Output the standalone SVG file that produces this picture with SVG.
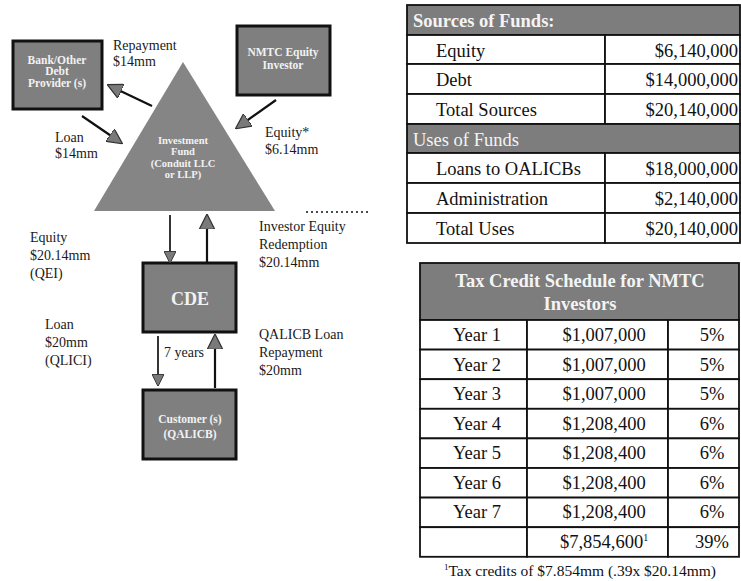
<svg xmlns="http://www.w3.org/2000/svg" width="741" height="581" viewBox="0 0 741 581">
<style>
  .box { fill: #7f7f7f; stroke: #111; stroke-width: 3; }
  .tri { fill: #858585; }
  .bt { font-family: "Liberation Serif", serif; font-size: 11.5px; font-weight: bold; fill: #f2f2f2; text-anchor: middle; }
  .ft { font-family: "Liberation Serif", serif; font-size: 10.5px; font-weight: bold; fill: #f2f2f2; text-anchor: middle; }
  .lbl { font-family: "Liberation Serif", serif; font-size: 14px; fill: #1a1a1a; }
  .conn line { stroke: #111; stroke-width: 2.2; }
  .cell { fill: #fff; stroke: #111; stroke-width: 1.8; }
  .hdr { fill: #7d7d7d; stroke: #111; stroke-width: 1.8; }
  .tt { font-family: "Liberation Serif", serif; font-size: 18.5px; fill: #111; }
  .th { font-family: "Liberation Serif", serif; font-size: 18.5px; fill: #f4f4f4; }
</style>
<defs>
  <marker id="ah" viewBox="0 0 10 10" refX="8" refY="5" markerWidth="7" markerHeight="7" orient="auto" markerUnits="strokeWidth">
    <path d="M0,0 L10,5 L0,10 Z" fill="#7a7a7a" stroke="#333" stroke-width="0.8"/>
  </marker>
</defs>
<rect width="741" height="581" fill="#fff"/>

<g id="bank">
  <rect class="box" x="13" y="41" width="89" height="68"/>
  <text class="bt" x="57" y="64">Bank/Other</text>
  <text class="bt" x="57" y="75">Debt</text>
  <text class="bt" x="57" y="87">Provider (s)</text>
</g>
<g id="nmtc">
  <rect class="box" x="237" y="26" width="93" height="69"/>
  <text class="bt" x="283" y="56">NMTC Equity</text>
  <text class="bt" x="283" y="69">Investor</text>
</g>
<g id="fund">
  <polygon class="tri" points="183,62 275,211 94,211"/>
  <text class="ft" x="183" y="144">Investment</text>
  <text class="ft" x="183" y="155">Fund</text>
  <text class="ft" x="183" y="167">(Conduit LLC</text>
  <text class="ft" x="183" y="178">or LLP)</text>
</g>
<g id="cde">
  <rect class="box" x="143" y="263" width="93" height="69"/>
  <text x="190" y="305" text-anchor="middle" font-family="Liberation Serif, serif" font-size="18" font-weight="bold" fill="#f2f2f2">CDE</text>
</g>
<g id="customer">
  <rect class="box" x="143" y="390" width="93" height="69"/>
  <text class="bt" x="190" y="423">Customer (s)</text>
  <text class="bt" x="190" y="438">(QALICB)</text>
</g>

<g class="conn">
  <line x1="152" y1="106" x2="110" y2="86" marker-end="url(#ah)"/>
  <line x1="82" y1="116" x2="120" y2="142" marker-end="url(#ah)"/>
  <line x1="276" y1="100" x2="238" y2="127" marker-end="url(#ah)"/>
  <line x1="170" y1="215" x2="170" y2="261" marker-end="url(#ah)" style="stroke-width:1.7"/>
  <line x1="207" y1="263" x2="207" y2="217" marker-end="url(#ah)"/>
  <line x1="158" y1="336" x2="158" y2="384" marker-end="url(#ah)" style="stroke-width:1.7"/>
  <line x1="215" y1="388" x2="215" y2="337" marker-end="url(#ah)"/>
  <line x1="306" y1="212" x2="370" y2="212" style="stroke-width:1.5;stroke-dasharray:2 3"/>
</g>

<g id="labels">
  <text class="lbl" x="113" y="50">Repayment</text>
  <text class="lbl" x="113" y="66">$14mm</text>
  <text class="lbl" x="55" y="142">Loan</text>
  <text class="lbl" x="55" y="158">$14mm</text>
  <text class="lbl" x="265" y="137">Equity*</text>
  <text class="lbl" x="265" y="154">$6.14mm</text>
  <text class="lbl" x="30" y="242">Equity</text>
  <text class="lbl" x="30" y="260">$20.14mm</text>
  <text class="lbl" x="30" y="278">(QEI)</text>
  <text class="lbl" x="259" y="231">Investor Equity</text>
  <text class="lbl" x="259" y="249">Redemption</text>
  <text class="lbl" x="259" y="267">$20.14mm</text>
  <text class="lbl" x="45" y="329">Loan</text>
  <text class="lbl" x="45" y="347">$20mm</text>
  <text class="lbl" x="45" y="365">(QLICI)</text>
  <text class="lbl" x="164" y="357">7 years</text>
  <text class="lbl" x="259" y="339">QALICB Loan</text>
  <text class="lbl" x="259" y="357">Repayment</text>
  <text class="lbl" x="259" y="375">$20mm</text>
</g>

<g id="sources-table">
  <rect class="hdr" x="407" y="5" width="333" height="30"/>
  <text class="th" x="413" y="27" font-weight="bold">Sources of Funds:</text>
  <rect class="cell" x="407" y="35" width="198" height="29"/><rect class="cell" x="605" y="35" width="135" height="29"/>
  <rect class="cell" x="407" y="64" width="198" height="30"/><rect class="cell" x="605" y="64" width="135" height="30"/>
  <rect class="cell" x="407" y="94" width="198" height="30"/><rect class="cell" x="605" y="94" width="135" height="30"/>
  <rect class="hdr" x="407" y="124" width="333" height="29"/>
  <text class="th" x="413" y="146">Uses of Funds</text>
  <rect class="cell" x="407" y="153" width="198" height="30"/><rect class="cell" x="605" y="153" width="135" height="30"/>
  <rect class="cell" x="407" y="183" width="198" height="30"/><rect class="cell" x="605" y="183" width="135" height="30"/>
  <rect class="cell" x="407" y="213" width="198" height="30"/><rect class="cell" x="605" y="213" width="135" height="30"/>
  <text class="tt" x="436" y="57">Equity</text><text class="tt" x="738" y="57" text-anchor="end">$6,140,000</text>
  <text class="tt" x="436" y="86">Debt</text><text class="tt" x="738" y="86" text-anchor="end">$14,000,000</text>
  <text class="tt" x="436" y="116">Total Sources</text><text class="tt" x="738" y="116" text-anchor="end">$20,140,000</text>
  <text class="tt" x="436" y="175">Loans to OALICBs</text><text class="tt" x="738" y="175" text-anchor="end">$18,000,000</text>
  <text class="tt" x="436" y="205">Administration</text><text class="tt" x="738" y="205" text-anchor="end">$2,140,000</text>
  <text class="tt" x="436" y="235">Total Uses</text><text class="tt" x="738" y="235" text-anchor="end">$20,140,000</text>
</g>

<g id="tax-table">
  <rect class="hdr" x="420" y="263" width="319" height="57"/>
  <text class="th" x="580" y="287" text-anchor="middle" font-weight="bold">Tax Credit Schedule for NMTC</text>
  <text class="th" x="580" y="310" text-anchor="middle" font-weight="bold">Investors</text>
  <g>
    <rect class="cell" x="420" y="320" width="107" height="29.6"/><rect class="cell" x="527" y="320" width="141" height="29.6"/><rect class="cell" x="668" y="320" width="71" height="29.6"/>
    <rect class="cell" x="420" y="349.6" width="107" height="29.6"/><rect class="cell" x="527" y="349.6" width="141" height="29.6"/><rect class="cell" x="668" y="349.6" width="71" height="29.6"/>
    <rect class="cell" x="420" y="379.2" width="107" height="29.6"/><rect class="cell" x="527" y="379.2" width="141" height="29.6"/><rect class="cell" x="668" y="379.2" width="71" height="29.6"/>
    <rect class="cell" x="420" y="408.8" width="107" height="29.6"/><rect class="cell" x="527" y="408.8" width="141" height="29.6"/><rect class="cell" x="668" y="408.8" width="71" height="29.6"/>
    <rect class="cell" x="420" y="438.4" width="107" height="29.6"/><rect class="cell" x="527" y="438.4" width="141" height="29.6"/><rect class="cell" x="668" y="438.4" width="71" height="29.6"/>
    <rect class="cell" x="420" y="468" width="107" height="29.6"/><rect class="cell" x="527" y="468" width="141" height="29.6"/><rect class="cell" x="668" y="468" width="71" height="29.6"/>
    <rect class="cell" x="420" y="497.6" width="107" height="29.6"/><rect class="cell" x="527" y="497.6" width="141" height="29.6"/><rect class="cell" x="668" y="497.6" width="71" height="29.6"/>
    <rect class="cell" x="420" y="527.2" width="107" height="29.6"/><rect class="cell" x="527" y="527.2" width="141" height="29.6"/><rect class="cell" x="668" y="527.2" width="71" height="29.6"/>
  </g>
  <g class="tt" text-anchor="middle">
    <text x="477" y="341">Year 1</text><text x="604" y="341">$1,007,000</text><text x="712" y="341">5%</text>
    <text x="477" y="371">Year 2</text><text x="604" y="371">$1,007,000</text><text x="712" y="371">5%</text>
    <text x="477" y="400">Year 3</text><text x="604" y="400">$1,007,000</text><text x="712" y="400">5%</text>
    <text x="477" y="430">Year 4</text><text x="604" y="430">$1,208,400</text><text x="712" y="430">6%</text>
    <text x="477" y="459">Year 5</text><text x="604" y="459">$1,208,400</text><text x="712" y="459">6%</text>
    <text x="477" y="489">Year 6</text><text x="604" y="489">$1,208,400</text><text x="712" y="489">6%</text>
    <text x="477" y="518">Year 7</text><text x="604" y="518">$1,208,400</text><text x="712" y="518">6%</text>
    <text x="604" y="548">$7,854,600<tspan font-size="10" dy="-7">1</tspan></text><text x="712" y="548">39%</text>
  </g>
  <text x="580" y="576" text-anchor="middle" font-family="Liberation Serif, serif" font-size="15.5" fill="#111"><tspan font-size="9" dy="-6">1</tspan><tspan dy="6">Tax credits of $7.854mm (.39x $20.14mm)</tspan></text>
</g>
</svg>
